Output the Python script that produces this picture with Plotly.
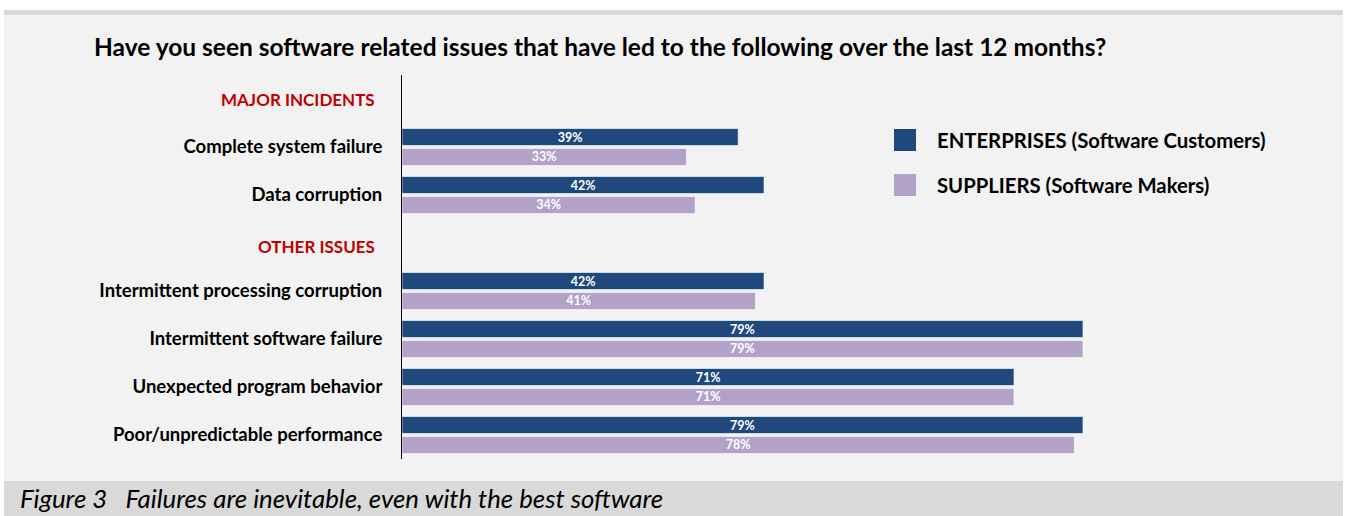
import plotly.graph_objects as go

# ---- data ----
categories = ["Complete system failure", "Data corruption",
              "Intermittent processing corruption", "Intermittent software failure",
              "Unexpected program behavior", "Poor/unpredictable performance"]
positions = [1, 2, 4, 5, 6, 7]
headers = ["MAJOR INCIDENTS", "OTHER ISSUES"]
enterprises = [39, 42, 42, 79, 71, 79]
suppliers = [33, 34, 41, 79, 71, 78]
series_names = ["ENTERPRISES (Software Customers)", "SUPPLIERS (Software Makers)"]

# ---- style ----
W, H = 1345, 516
L, T, PW, PH = 402, 75, 862, 384
DARK = "#1f497d"
LIGHT = "#b3a2c7"
FONT = "Lato"

def px(x):
    return (x - L) / PW

def py(y):
    return (T + PH - y) / PH

fig = go.Figure()
for name, vals, col in [(series_names[0], enterprises, DARK), (series_names[1], suppliers, LIGHT)]:
    fig.add_trace(go.Bar(
        y=positions, x=vals, orientation="h", name=name,
        marker=dict(color=col, line=dict(color="rgba(255,255,255,0.6)", width=1)),
        text=[f"{v}%" for v in vals], textposition="inside", insidetextanchor="middle",
        textangle=0, constraintext="none",
        textfont=dict(family=FONT, size=12.5, color="white", weight="bold"),
        showlegend=False,
    ))

shapes = [
    dict(type="rect", xref="paper", yref="paper", x0=px(4), x1=px(1343), y0=py(15), y1=py(10),
         fillcolor="#d9d9d9", line_width=0, layer="below"),
    dict(type="rect", xref="paper", yref="paper", x0=px(4), x1=px(1343), y0=py(481), y1=py(15),
         fillcolor="#f2f2f2", line_width=0, layer="below"),
    dict(type="rect", xref="paper", yref="paper", x0=px(4), x1=px(1343), y0=py(516), y1=py(481),
         fillcolor="#d9d9d9", line_width=0, layer="below"),
]
annotations = [
    dict(text="<b>Have you seen software related issues that have led to the following over the last 12 months?</b>",
         xref="paper", yref="paper", x=px(92), y=py(47), xanchor="left", yanchor="middle",
         showarrow=False, font=dict(family=FONT, size=24.5, color="black")),
    dict(text="<i>Figure 3   Failures are inevitable, even with the best software</i>",
         xref="paper", yref="paper", x=px(18), y=py(498), xanchor="left", yanchor="middle",
         showarrow=False, font=dict(family=FONT, size=25.8, color="black")),
]
for htxt, hy in zip(headers, [100, 246]):
    annotations.append(dict(text=f"<b>{htxt}</b>", xref="paper", yref="paper", x=px(377), y=py(hy),
                            xanchor="right", yanchor="middle", showarrow=False,
                            font=dict(family=FONT, size=17, color="#c00000")))
# legend
for i, (name, col) in enumerate(zip(series_names, [DARK, LIGHT])):
    y0 = 129 + 45 * i
    shapes.append(dict(type="rect", xref="paper", yref="paper", x0=px(894), x1=px(916),
                       y0=py(y0 + 22), y1=py(y0), fillcolor=col, line_width=0))
    annotations.append(dict(text=f"<b>{name}</b>", xref="paper", yref="paper", x=px(935), y=py(y0 + 11),
                            xanchor="left", yanchor="middle", showarrow=False,
                            font=dict(family=FONT, size=20.3, color="black")))

fig.update_layout(
    width=W, height=H,
    margin=dict(l=L, r=W - L - PW, t=T, b=H - T - PH, pad=0),
    paper_bgcolor="white", plot_bgcolor="rgba(0,0,0,0)",
    barmode="group", bargap=0.167, bargroupgap=0.15,
    shapes=shapes, annotations=annotations,
    xaxis=dict(range=[0, 100], visible=False, fixedrange=True),
    yaxis=dict(range=[7.5, -0.5], tickvals=positions, ticktext=[f"<b>{c}</b>" for c in categories],
               tickfont=dict(family=FONT, size=18.5, color="black"),
               showline=True, linecolor="black", linewidth=1, showgrid=False, zeroline=False,
               ticks="outside", ticklen=15, tickcolor="rgba(0,0,0,0)", fixedrange=True),
    font=dict(family=FONT),
)
fig.write_html("out.html", config={"displayModeBar": False},
               post_script="document.body.style.margin='0';document.body.style.overflow='hidden';")
